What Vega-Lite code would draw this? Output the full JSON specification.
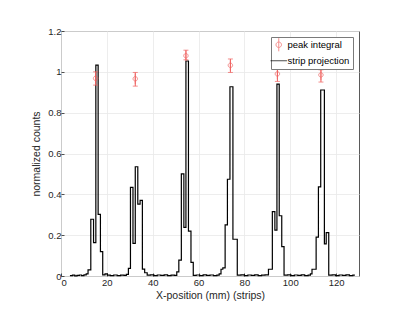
{
  "$schema": "https://vega.github.io/schema/vega-lite/v6.json",
  "width": 298,
  "height": 245,
  "autosize": {"type": "none"},
  "padding": {"left": 61, "top": 31, "right": 48, "bottom": 42},
  "background": "white",
  "config": {
    "font": "Liberation Sans",
    "view": {"stroke": "#5a5a5a", "strokeWidth": 1},
    "axis": {
      "labelFont": "Liberation Sans",
      "titleFont": "Liberation Sans",
      "labelFontSize": 9.5,
      "titleFontSize": 10.5,
      "titleFontWeight": "normal",
      "labelColor": "#262626",
      "titleColor": "#262626",
      "tickColor": "#262626",
      "domain": false,
      "grid": true,
      "gridColor": "#e8e8e8",
      "gridWidth": 0.8,
      "tickSize": -3,
      "tickWidth": 0.8
    },
    "legend": {
      "labelFont": "Liberation Sans",
      "labelFontSize": 9.5,
      "labelColor": "#000000"
    }
  },
  "datasets": {
    "proj": [
      {"x": 3.9, "y": 0.002, "series": "strip projection"},
      {"x": 5, "y": 0.004, "series": "strip projection"},
      {"x": 6, "y": 0.001, "series": "strip projection"},
      {"x": 7, "y": 0.003, "series": "strip projection"},
      {"x": 8, "y": 0.005, "series": "strip projection"},
      {"x": 9, "y": 0.002, "series": "strip projection"},
      {"x": 10, "y": 0.006, "series": "strip projection"},
      {"x": 11.0, "y": 0.01, "series": "strip projection"},
      {"x": 11.8, "y": 0.03, "series": "strip projection"},
      {"x": 13.0, "y": 0.278, "series": "strip projection"},
      {"x": 14.2, "y": 0.163, "series": "strip projection"},
      {"x": 15.2, "y": 1.033, "series": "strip projection"},
      {"x": 16.2, "y": 0.302, "series": "strip projection"},
      {"x": 17.2, "y": 0.119, "series": "strip projection"},
      {"x": 18.2, "y": 0.006, "series": "strip projection"},
      {"x": 19.2, "y": 0.01, "series": "strip projection"},
      {"x": 20.2, "y": 0.004, "series": "strip projection"},
      {"x": 21.5, "y": 0.002, "series": "strip projection"},
      {"x": 23, "y": 0.005, "series": "strip projection"},
      {"x": 24.5, "y": 0.002, "series": "strip projection"},
      {"x": 26, "y": 0.004, "series": "strip projection"},
      {"x": 27.5, "y": 0.003, "series": "strip projection"},
      {"x": 28.5, "y": 0.008, "series": "strip projection"},
      {"x": 29.4, "y": 0.037, "series": "strip projection"},
      {"x": 30.3, "y": 0.434, "series": "strip projection"},
      {"x": 31.4, "y": 0.16, "series": "strip projection"},
      {"x": 32.4, "y": 0.535, "series": "strip projection"},
      {"x": 33.5, "y": 0.352, "series": "strip projection"},
      {"x": 34.5, "y": 0.37, "series": "strip projection"},
      {"x": 35.5, "y": 0.034, "series": "strip projection"},
      {"x": 36.5, "y": 0.016, "series": "strip projection"},
      {"x": 37.6, "y": 0.004, "series": "strip projection"},
      {"x": 39, "y": 0.006, "series": "strip projection"},
      {"x": 40.5, "y": 0.002, "series": "strip projection"},
      {"x": 42, "y": 0.005, "series": "strip projection"},
      {"x": 43.5, "y": 0.003, "series": "strip projection"},
      {"x": 45, "y": 0.006, "series": "strip projection"},
      {"x": 46.5, "y": 0.002, "series": "strip projection"},
      {"x": 48, "y": 0.004, "series": "strip projection"},
      {"x": 49.5, "y": 0.003, "series": "strip projection"},
      {"x": 50.5, "y": 0.02, "series": "strip projection"},
      {"x": 51.4, "y": 0.078, "series": "strip projection"},
      {"x": 52.5, "y": 0.5, "series": "strip projection"},
      {"x": 53.6, "y": 0.238, "series": "strip projection"},
      {"x": 54.5, "y": 1.053, "series": "strip projection"},
      {"x": 55.6, "y": 0.22, "series": "strip projection"},
      {"x": 56.7, "y": 0.067, "series": "strip projection"},
      {"x": 57.7, "y": 0.003, "series": "strip projection"},
      {"x": 59, "y": 0.005, "series": "strip projection"},
      {"x": 60.5, "y": 0.002, "series": "strip projection"},
      {"x": 62, "y": 0.006, "series": "strip projection"},
      {"x": 63.5, "y": 0.003, "series": "strip projection"},
      {"x": 65, "y": 0.005, "series": "strip projection"},
      {"x": 66.5, "y": 0.002, "series": "strip projection"},
      {"x": 68, "y": 0.004, "series": "strip projection"},
      {"x": 69, "y": 0.01, "series": "strip projection"},
      {"x": 69.8, "y": 0.033, "series": "strip projection"},
      {"x": 70.6, "y": 0.04, "series": "strip projection"},
      {"x": 71.6, "y": 0.25, "series": "strip projection"},
      {"x": 72.6, "y": 0.474, "series": "strip projection"},
      {"x": 73.7, "y": 0.927, "series": "strip projection"},
      {"x": 75.0, "y": 0.18, "series": "strip projection"},
      {"x": 76.9, "y": 0.004, "series": "strip projection"},
      {"x": 78.5, "y": 0.006, "series": "strip projection"},
      {"x": 80, "y": 0.002, "series": "strip projection"},
      {"x": 81.5, "y": 0.005, "series": "strip projection"},
      {"x": 83, "y": 0.003, "series": "strip projection"},
      {"x": 84.5, "y": 0.006, "series": "strip projection"},
      {"x": 86, "y": 0.002, "series": "strip projection"},
      {"x": 87.5, "y": 0.004, "series": "strip projection"},
      {"x": 89, "y": 0.006, "series": "strip projection"},
      {"x": 90.5, "y": 0.033, "series": "strip projection"},
      {"x": 92.2, "y": 0.315, "series": "strip projection"},
      {"x": 93.3, "y": 0.225, "series": "strip projection"},
      {"x": 94.2, "y": 0.94, "series": "strip projection"},
      {"x": 95.2, "y": 0.295, "series": "strip projection"},
      {"x": 96.3, "y": 0.144, "series": "strip projection"},
      {"x": 97.3, "y": 0.004, "series": "strip projection"},
      {"x": 98.8, "y": 0.006, "series": "strip projection"},
      {"x": 100.3, "y": 0.002, "series": "strip projection"},
      {"x": 101.8, "y": 0.005, "series": "strip projection"},
      {"x": 103.3, "y": 0.003, "series": "strip projection"},
      {"x": 104.8, "y": 0.006, "series": "strip projection"},
      {"x": 106.3, "y": 0.002, "series": "strip projection"},
      {"x": 107.8, "y": 0.004, "series": "strip projection"},
      {"x": 108.8, "y": 0.01, "series": "strip projection"},
      {"x": 109.5, "y": 0.033, "series": "strip projection"},
      {"x": 111.3, "y": 0.19, "series": "strip projection"},
      {"x": 112.3, "y": 0.437, "series": "strip projection"},
      {"x": 113.3, "y": 0.911, "series": "strip projection"},
      {"x": 114.9, "y": 0.157, "series": "strip projection"},
      {"x": 115.7, "y": 0.212, "series": "strip projection"},
      {"x": 116.8, "y": 0.004, "series": "strip projection"},
      {"x": 118.3, "y": 0.006, "series": "strip projection"},
      {"x": 119.8, "y": 0.002, "series": "strip projection"},
      {"x": 121.3, "y": 0.005, "series": "strip projection"},
      {"x": 122.8, "y": 0.003, "series": "strip projection"},
      {"x": 124.3, "y": 0.006, "series": "strip projection"},
      {"x": 125.8, "y": 0.002, "series": "strip projection"},
      {"x": 127.3, "y": 0.004, "series": "strip projection"},
      {"x": 128.2, "y": 0.004, "series": "strip projection"}
    ],
    "peaks": [
      {"x": 15.1, "y": 0.968, "lo": 0.935, "hi": 1.0, "series": "peak integral"},
      {"x": 32.4, "y": 0.966, "lo": 0.93, "hi": 0.997, "series": "peak integral"},
      {"x": 54.5, "y": 1.079, "lo": 1.059, "hi": 1.106, "series": "peak integral"},
      {"x": 73.9, "y": 1.032, "lo": 0.997, "hi": 1.063, "series": "peak integral"},
      {"x": 94.4, "y": 0.99, "lo": 0.953, "hi": 1.018, "series": "peak integral"},
      {"x": 113.4, "y": 0.985, "lo": 0.95, "hi": 1.01, "series": "peak integral"}
    ]
  },
  "layer": [
    {
      "data": {"name": "proj"},
      "mark": {"type": "line", "interpolate": "step-after", "strokeWidth": 1.2},
      "encoding": {
        "x": {"field": "x", "type": "quantitative", "scale": {"domain": [0, 130], "nice": false},
              "axis": {"values": [0, 20, 40, 60, 80, 100, 120], "title": "X-position (mm) (strips)", "labelPadding": 4, "titlePadding": 4}},
        "y": {"field": "y", "type": "quantitative", "scale": {"domain": [0, 1.2], "nice": false},
              "axis": {"values": [0, 0.2, 0.4, 0.6, 0.8, 1, 1.2], "format": ".1~f", "title": "normalized counts", "labelPadding": 3, "titlePadding": 6}},
        "color": {"field": "series", "type": "nominal",
                  "scale": {"domain": ["peak integral", "strip projection"], "range": ["#f0605e", "#000000"]},
                  "legend": {"title": null, "orient": "top-right", "offset": 6, "strokeColor": "#7a7a7a", "fillColor": "white", "padding": 3, "rowPadding": 1, "symbolSize": 30, "symbolStrokeWidth": 1, "labelOffset": 4}}
      }
    },
    {
      "data": {"name": "peaks"},
      "mark": {"type": "rule", "color": "#f0605e", "strokeWidth": 1},
      "encoding": {
        "x": {"field": "x", "type": "quantitative"},
        "y": {"field": "lo", "type": "quantitative"},
        "y2": {"field": "hi"}
      }
    },
    {
      "data": {"name": "peaks"},
      "mark": {"type": "tick", "orient": "horizontal", "color": "#f0605e", "size": 5, "thickness": 1},
      "encoding": {
        "x": {"field": "x", "type": "quantitative"},
        "y": {"field": "lo", "type": "quantitative"}
      }
    },
    {
      "data": {"name": "peaks"},
      "mark": {"type": "tick", "orient": "horizontal", "color": "#f0605e", "size": 5, "thickness": 1},
      "encoding": {
        "x": {"field": "x", "type": "quantitative"},
        "y": {"field": "hi", "type": "quantitative"}
      }
    },
    {
      "data": {"name": "peaks"},
      "mark": {"type": "point", "filled": false, "size": 20, "strokeWidth": 1},
      "encoding": {
        "x": {"field": "x", "type": "quantitative"},
        "y": {"field": "y", "type": "quantitative"},
        "color": {"field": "series", "type": "nominal"},
        "shape": {"field": "series", "type": "nominal",
                  "scale": {"domain": ["peak integral", "strip projection"], "range": ["M0,-1A1,1,0,1,1,0,1A1,1,0,1,1,0,-1M0,-2.4L0,2.4", "M-3,0L3,0"]}}
      }
    }
  ]
}
